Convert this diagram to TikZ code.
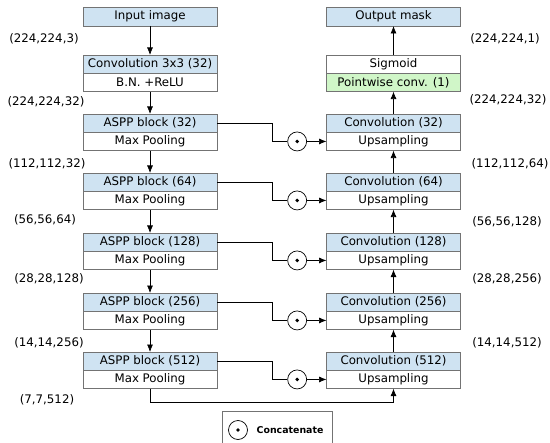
\documentclass[tikz,border=0pt]{standalone}
\usepackage{xcolor}
\usepackage{fontspec}
\setmainfont{DejaVu Sans}
\usepackage{tikz}
\usetikzlibrary{shapes,arrows,positioning,calc,arrows.meta}
\definecolor{boxgray}{RGB}{115,115,115}
\definecolor{blkblue}{RGB}{207,227,242}
\definecolor{pwgreen}{RGB}{208,246,200}

\begin{document}
\begin{tikzpicture}[x=1bp,y=-1bp,
  font=\fontsize{11.8bp}{14bp}\selectfont, line width=0.7bp,
  half/.style={draw=boxgray, minimum width=134bp, minimum height=18.3bp, inner sep=0pt, outer sep=0pt},
  tophalf/.style={half, fill=blkblue, anchor=north},
  bothalf/.style={half, fill=white, below=0pt of #1},
  cat/.style={circle, draw=black, fill=white, minimum size=19bp, inner sep=0pt,
    path picture={\fill[black] (path picture bounding box.center) circle (1.9bp);}},
  shape lbl/.style={inner sep=0pt},
  flow/.style={-{Latex[length=7.5bp,width=6bp]}, black}]
\useasboundingbox (0,0) rectangle (550,443);

% encoder (left)
\node[tophalf, minimum height=19bp] (in) at (150,7) {Input image};
\node[tophalf] (c0t) at (150,55) {Convolution 3x3 (32)};
\node[bothalf=c0t] (c0b) {B.N. +ReLU};
\node[tophalf] (a1t) at (150,114) {ASPP block (32)};
\node[bothalf=a1t] (a1b) {Max Pooling};
\node[tophalf] (a2t) at (150,173) {ASPP block (64)};
\node[bothalf=a2t] (a2b) {Max Pooling};
\node[tophalf] (a3t) at (150,233) {ASPP block (128)};
\node[bothalf=a3t] (a3b) {Max Pooling};
\node[tophalf] (a4t) at (150,293) {ASPP block (256)};
\node[bothalf=a4t] (a4b) {Max Pooling};
\node[tophalf] (a5t) at (150,352) {ASPP block (512)};
\node[bothalf=a5t] (a5b) {Max Pooling};

% decoder (right)
\node[tophalf, minimum height=19bp] (out) at (393.5,7) {Output mask};
\node[half, fill=white, anchor=north] (sig) at (393.5,55) {Sigmoid};
\node[half, fill=pwgreen, below=0pt of sig] (pw) {Pointwise conv. (1)};
\node[tophalf] (u1t) at (393.5,114) {Convolution (32)};
\node[bothalf=u1t] (u1b) {Upsampling};
\node[tophalf] (u2t) at (393.5,173) {Convolution (64)};
\node[bothalf=u2t] (u2b) {Upsampling};
\node[tophalf] (u3t) at (393.5,233) {Convolution (128)};
\node[bothalf=u3t] (u3b) {Upsampling};
\node[tophalf] (u4t) at (393.5,293) {Convolution (256)};
\node[bothalf=u4t] (u4b) {Upsampling};
\node[tophalf] (u5t) at (393.5,352) {Convolution (512)};
\node[bothalf=u5t] (u5b) {Upsampling};

% concatenation points
\node[cat, left=19.5bp of u1b] (cat1) {};
\node[cat, left=19.5bp of u2b] (cat2) {};
\node[cat, left=19.5bp of u3b] (cat3) {};
\node[cat, left=19.5bp of u4b] (cat4) {};
\node[cat, left=19.5bp of u5b] (cat5) {};

% shapes
\node[shape lbl] (s1) at (44,39) {(224,224,3)};
\node[shape lbl] (s2) at (46,102) {(224,224,32)};
\node[shape lbl] (s3) at (47,164) {(112,112,32)};
\node[shape lbl] (s4) at (45,220) {(56,56,64)};
\node[shape lbl] (s5) at (49,279) {(28,28,128)};
\node[shape lbl] (s6) at (49,343) {(14,14,256)};
\node[shape lbl] (s7) at (47,400) {(7,7,512)};
\node[shape lbl] (r1) at (505,39) {(224,224,1)};
\node[shape lbl] (r2) at (508,100) {(224,224,32)};
\node[shape lbl] (r3) at (510,164) {(112,112,64)};
\node[shape lbl] (r4) at (507,222) {(56,56,128)};
\node[shape lbl] (r5) at (507,279) {(28,28,256)};
\node[shape lbl] (r6) at (507,343) {(14,14,512)};

% down path
\draw[flow] (in) -- (c0t);
\draw[flow] (c0b) -- (a1t);
\draw[flow] (a1b) -- (a2t);
\draw[flow] (a2b) -- (a3t);
\draw[flow] (a3b) -- (a4t);
\draw[flow] (a4b) -- (a5t);
\draw[flow] (a5b.south) -- ++(0,14) -| (u5b.south);

% up path
\draw[flow] (u5t) -- (u4b);
\draw[flow] (u4t) -- (u3b);
\draw[flow] (u3t) -- (u2b);
\draw[flow] (u2t) -- (u1b);
\draw[flow] (u1t) -- (pw);
\draw[flow] (sig) -- (out);

% skip connections
\draw (a1t.east) -- ++(55,0) |- (cat1);
\draw (a2t.east) -- ++(55,0) |- (cat2);
\draw (a3t.east) -- ++(55,0) |- (cat3);
\draw (a4t.east) -- ++(55,0) |- (cat4);
\draw (a5t.east) -- ++(55,0) |- (cat5);
\draw[flow] (cat1) -- (u1b);
\draw[flow] (cat2) -- (u2b);
\draw[flow] (cat3) -- (u3b);
\draw[flow] (cat4) -- (u4b);
\draw[flow] (cat5) -- (u5b);

% legend
\node[draw=boxgray, anchor=north west, minimum width=110bp, minimum height=40bp, inner sep=0pt] (legend) at (222,411) {};
\node[cat] (catleg) at (238,430) {};
\node[font=\fontsize{9.4bp}{11bp}\selectfont\bfseries, anchor=west] (legtxt) at (253,430) {Concatenate};
\end{tikzpicture}
\end{document}
